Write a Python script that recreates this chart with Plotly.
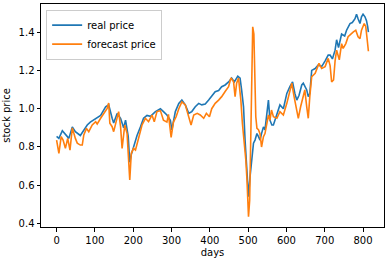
import plotly.graph_objects as go

real_days = [0, 6, 15, 23, 32, 41, 49, 62, 71, 80, 88, 102, 115, 128, 136, 145, 149, 158, 167, 175, 180, 187, 191, 195, 201, 210, 219, 227, 236, 245, 258, 271, 279, 288, 297, 301, 310, 319, 327, 336, 345, 353, 362, 371, 379, 388, 397, 405, 414, 423, 431, 440, 449, 457, 464, 473, 479, 483, 488, 492, 497, 501, 505, 510, 514, 518, 523, 527, 531, 535, 540, 544, 549, 553, 557, 562, 566, 575, 583, 592, 601, 609, 616, 622, 627, 633, 640, 644, 653, 657, 661, 666, 675, 683, 692, 701, 709, 714, 720, 727, 731, 736, 744, 752, 757, 766, 772, 779, 783, 787, 792, 796, 800, 805, 809, 812, 814]
real_price = [0.855, 0.845, 0.885, 0.865, 0.845, 0.905, 0.88, 0.86, 0.89, 0.915, 0.93, 0.95, 0.965, 1.01, 1.02, 0.95, 0.925, 0.975, 0.95, 0.9, 0.94, 0.855, 0.72, 0.76, 0.8, 0.86, 0.905, 0.95, 0.965, 0.96, 0.985, 1.0, 0.985, 0.967, 0.94, 0.89, 0.985, 1.028, 1.045, 1.02, 0.976, 0.985, 1.01, 1.028, 1.02, 1.025, 1.045, 1.063, 1.089, 1.095, 1.115, 1.124, 1.14, 1.16, 1.14, 1.17, 1.16, 1.098, 1.01, 0.836, 0.697, 0.54, 0.645, 0.75, 0.82, 0.836, 0.87, 0.854, 0.836, 0.87, 0.905, 0.89, 0.976, 1.045, 0.94, 0.915, 0.915, 0.976, 1.02, 1.0, 1.08, 1.115, 1.14, 1.08, 1.045, 1.07, 1.124, 1.133, 1.098, 1.063, 1.08, 1.2, 1.21, 1.228, 1.22, 1.25, 1.28, 1.28, 1.26, 1.306, 1.36, 1.32, 1.39, 1.38, 1.41, 1.445, 1.45, 1.47, 1.494, 1.47, 1.445, 1.48, 1.494, 1.48, 1.46, 1.43, 1.40]

forecast_days = [0, 6, 12, 17, 23, 29, 35, 41, 49, 54, 62, 67, 71, 78, 84, 93, 102, 106, 115, 124, 132, 136, 139, 145, 149, 162, 167, 171, 178, 184, 191, 195, 201, 206, 214, 223, 232, 240, 249, 255, 262, 271, 279, 288, 292, 299, 305, 312, 319, 327, 336, 345, 351, 358, 367, 375, 384, 391, 399, 405, 414, 423, 431, 440, 449, 455, 462, 466, 470, 475, 481, 485, 490, 494, 497, 501, 504, 506, 509, 512, 515, 517, 520, 523, 527, 531, 535, 540, 544, 549, 553, 557, 561, 566, 575, 583, 592, 601, 608, 614, 620, 627, 631, 637, 644, 648, 653, 657, 661, 666, 675, 679, 685, 692, 701, 709, 714, 718, 723, 727, 731, 738, 744, 748, 755, 761, 768, 774, 781, 787, 792, 796, 803, 807, 810, 814]
forecast_price = [0.836, 0.767, 0.854, 0.836, 0.793, 0.845, 0.784, 0.9, 0.845, 0.82, 0.81, 0.81, 0.863, 0.897, 0.88, 0.915, 0.932, 0.92, 0.95, 0.976, 1.002, 1.03, 0.924, 0.906, 0.88, 0.985, 0.906, 0.793, 0.915, 0.87, 0.628, 0.767, 0.793, 0.784, 0.845, 0.915, 0.95, 0.932, 0.967, 0.932, 0.985, 0.99, 0.94, 0.93, 0.97, 0.85, 0.93, 0.958, 1.0, 1.036, 1.02, 0.958, 0.915, 0.967, 0.976, 0.967, 0.95, 0.976, 0.958, 1.0, 1.028, 1.045, 1.063, 1.09, 1.115, 1.16, 1.14, 1.063, 1.133, 1.16, 1.045, 0.924, 0.82, 0.732, 0.628, 0.436, 0.52, 0.784, 1.22, 1.428, 1.39, 1.133, 0.958, 0.897, 0.89, 0.87, 0.80, 0.854, 0.87, 0.924, 0.967, 0.94, 0.993, 0.958, 0.95, 0.985, 0.967, 1.028, 1.08, 1.133, 1.063, 0.993, 0.95, 1.01, 1.07, 1.098, 1.01, 0.95, 1.063, 1.167, 1.185, 1.21, 1.237, 1.21, 1.22, 1.263, 1.225, 1.14, 1.15, 1.25, 1.306, 1.255, 1.34, 1.315, 1.34, 1.376, 1.39, 1.40, 1.41, 1.376, 1.366, 1.41, 1.445, 1.43, 1.376, 1.30]

y_ticks = [0.4, 0.6, 0.8, 1.0, 1.2, 1.4]
x_ticks = [0, 100, 200, 300, 400, 500, 600, 700, 800]

fig = go.Figure()
fig.add_trace(go.Scatter(x=real_days, y=real_price, mode="lines", name="real price",
                         line=dict(color="#1f77b4", width=1.6)))
fig.add_trace(go.Scatter(x=forecast_days, y=forecast_price, mode="lines", name="forecast price",
                         line=dict(color="#ff7f0e", width=1.6)))

axis_common = dict(showline=True, linecolor="black", linewidth=1, mirror=True,
                   ticks="outside", ticklen=3.5, tickwidth=0.8, tickcolor="black",
                   showgrid=False, zeroline=False, automargin=False,
                   tickfont=dict(family="DejaVu Sans", size=10, color="black"))

fig.update_layout(
    width=387, height=261,
    margin=dict(l=41, r=3, t=4, b=34, autoexpand=False),
    paper_bgcolor="white", plot_bgcolor="white",
    font=dict(family="DejaVu Sans", size=10, color="black"),
    xaxis=dict(range=[-40.7, 854.7], tickvals=x_ticks,
               title=dict(text="days", font=dict(size=10), standoff=4), **axis_common),
    yaxis=dict(range=[0.382, 1.547], tickvals=y_ticks, tickformat=".1f",
               title=dict(text="stock price", font=dict(size=10), standoff=6), **axis_common),
    legend=dict(x=0.015, y=0.975, xanchor="left", yanchor="top",
                bgcolor="rgba(255,255,255,0.8)", bordercolor="#cccccc", borderwidth=1,
                font=dict(size=10), tracegroupgap=0, itemwidth=30),
    showlegend=True,
)

fig.write_html("out.html", config={"displayModeBar": False},
               post_script="document.body.style.margin='0';document.body.style.padding='0';")
